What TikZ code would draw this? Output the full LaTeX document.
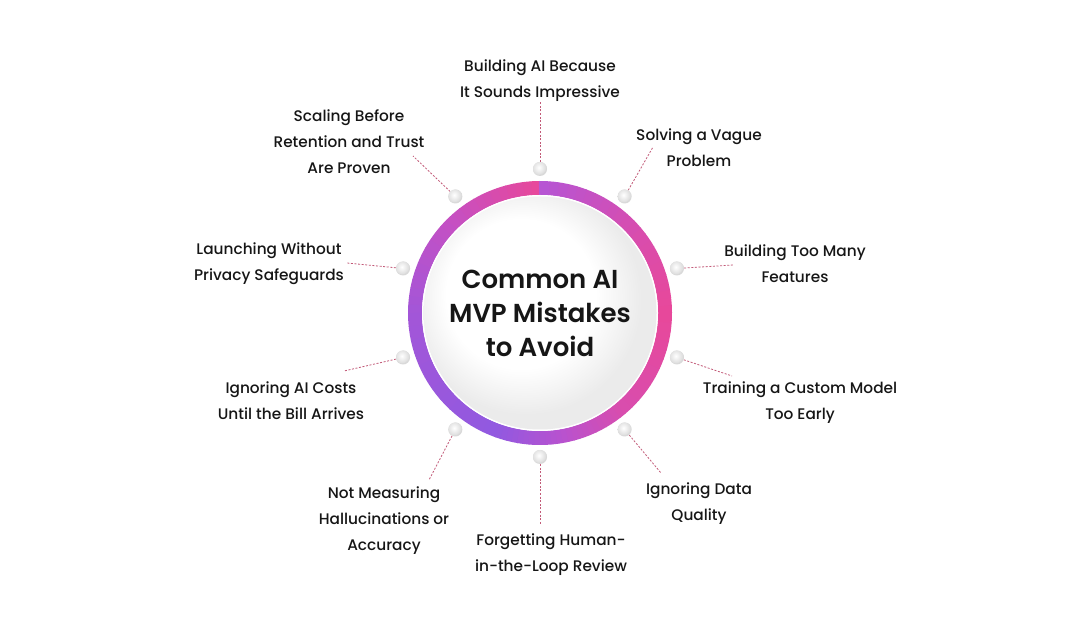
\documentclass[tikz,border=0pt]{standalone}
\usepackage{fontspec}
\setmainfont{Poppins}[UprightFont=* Medium, BoldFont=* SemiBold]

\definecolor{ringpink}{HTML}{E8489A}
\definecolor{ringmag}{HTML}{C450C4}
\definecolor{ringpurple}{HTML}{A356D8}
\definecolor{ringblue}{HTML}{9159E0}
\definecolor{ringorchid}{HTML}{B852CF}
\definecolor{ringrose}{HTML}{D84DAE}
\definecolor{ringviolet}{HTML}{B555D5}
\definecolor{linkred}{HTML}{C25A78}
\definecolor{inktext}{HTML}{161616}

\pgfdeclareradialshading{discshade}{\pgfpoint{-6bp}{6bp}}{color(0bp)=(white); color(16bp)=(white); color(25bp)=(gray!16); color(50bp)=(gray!16)}

\tikzset{
  dot/.style={circle, inner sep=0pt, minimum size=10.5pt, fill=gray!30,
    path picture={\shade[inner color=white, outer color=gray!32]
      ([xshift=-1pt,yshift=1.5pt]path picture bounding box.center) circle (6pt);}},
  link/.style={linkred, line width=0.6pt, dash pattern=on 1.5pt off 1.2pt},
  lbl/.style={align=center, text=inktext, font=\fontsize{11.5}{19.5}\selectfont},
  title/.style={align=center, text=inktext, font=\fontsize{19.5}{25.5}\selectfont\bfseries}
}

\begin{document}
\begin{tikzpicture}[x=0.75pt,y=0.75pt]
    \fill[white](0,0)rectangle(1080,628);
    \useasboundingbox(0,0)rectangle(1080,628);
    \coordinate(c)at(540,315);

    % gradient ring
    \foreach \a/\ca/\b/\cb in {90/ringpink/135/ringmag, 135/ringmag/180/ringpurple,
        180/ringpurple/250/ringblue, 250/ringblue/280/ringorchid, 280/ringorchid/310/ringrose,
        310/ringrose/360/ringpink, 360/ringpink/400/ringrose, 400/ringrose/450/ringviolet}{
      \foreach \i in {0,...,11}{
        \pgfmathsetmacro\t{\a+(\b-\a)*\i/12}
        \pgfmathsetmacro\u{\a+(\b-\a)*(\i+1)/12+0.4}
        \pgfmathsetmacro\p{100*(\i+0.5)/12}
        \draw[line width=10.5pt,\cb!\p!\ca](c)++(\t:125)arc[start angle=\t,end angle=\u,radius=125];
      }
    }
    \fill[white](c)circle(118);
    \shade[shading=discshade](c)circle(116.5);
    \node[title](hub)at(c){Common AI\\MVP Mistakes\\to Avoid};

    % label ends
    \coordinate(e1)at(540,526);
    \coordinate(e2)at(653,481);
    \coordinate(e3)at(733,363);
    \coordinate(e4)at(732,252);
    \coordinate(e5)at(661,155);
    \coordinate(e6)at(540,103);
    \coordinate(e7)at(429,148);
    \coordinate(e8)at(344,257);
    \coordinate(e9)at(347,365);
    \coordinate(e10)at(413,472);

    \foreach \i in {1,...,10}{
      \path(c)++({90-36*(\i-1)}:144)coordinate(p\i);
      \draw[link](p\i)--(e\i);
      \node[dot](d\i)at(p\i){};
    }

    \node[lbl](l1)at(540,547){Building AI Because\\It Sounds Impressive};
    \node[lbl](l2)at(699,480){Solving a Vague\\Problem};
    \node[lbl](l3)at(795,364){Building Too Many\\Features};
    \node[lbl](l4)at(800,225){Training a Custom Model\\Too Early};
    \node[lbl](l5)at(699,124){Ignoring Data\\Quality};
    \node[lbl](l6)at(551,73){Forgetting Human-\\in-the-Loop Review};
    \node[lbl](l7)at(384,107){Not Measuring\\Hallucinations or\\Accuracy};
    \node[lbl](l8)at(291,227){Ignoring AI Costs\\Until the Bill Arrives};
    \node[lbl](l9)at(269,364){Launching Without\\Privacy Safeguards};
    \node[lbl](l10)at(349,486){Scaling Before\\Retention and Trust\\Are Proven};
\end{tikzpicture}
\end{document}
